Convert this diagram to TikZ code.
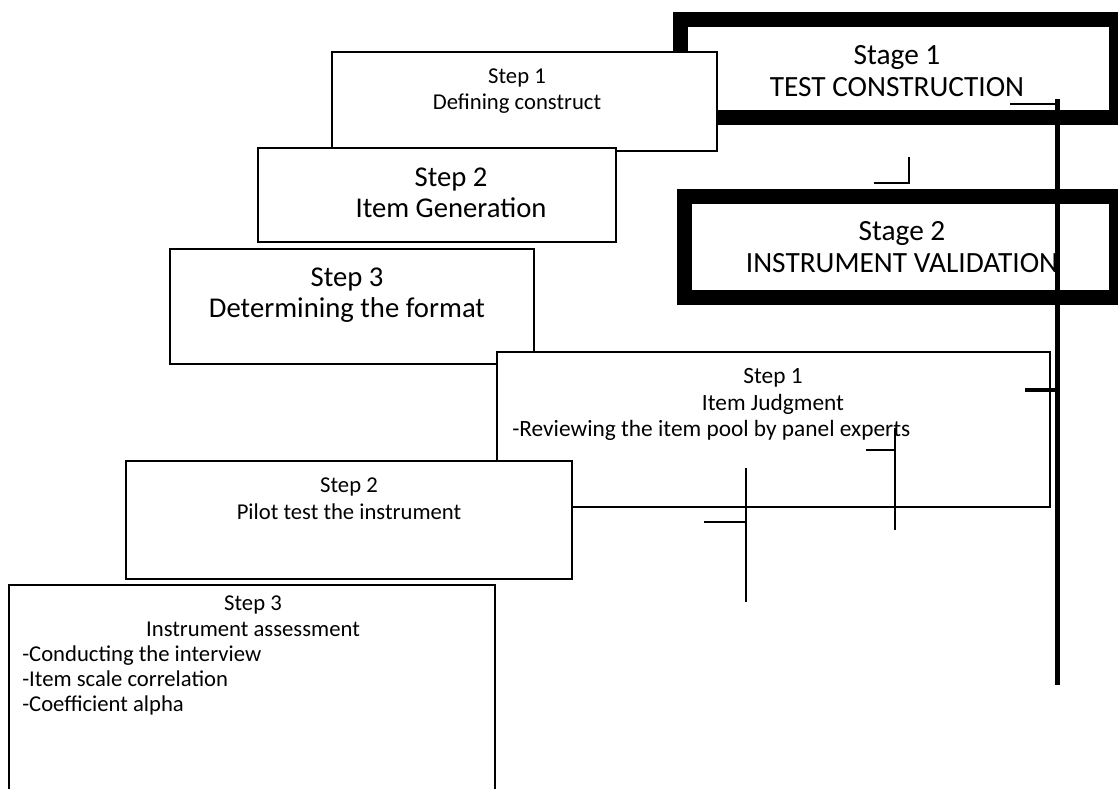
\documentclass[tikz,border=0pt]{standalone}
\usepackage{fontspec}
\setmainfont{Carlito}

\begin{document}
\begin{tikzpicture}[x=0.75pt,y=-0.75pt,
	stageframe/.style={line width=11.25pt},
	stepbox/.style={draw, fill=white, line width=1.4pt},
	tick/.style={line width=1.2pt},
	spine/.style={line width=3.75pt},
	title/.style={anchor=north, inner sep=0pt, align=center},
	items/.style={anchor=north west, inner sep=0pt, align=left}]
	\useasboundingbox (0,0) rectangle (1118,789);
	% stage 1
	\draw [stageframe] (680,19) rectangle (1116,117);
	\node [title, font=\fontsize{22}{24}\selectfont] (stageA) at (897,45) {Stage 1\\TEST CONSTRUCTION};
	% steps of stage 1
	\draw [stepbox] (332,52) rectangle (717,151);
	\node [title, font=\fontsize{17}{19.5}\selectfont] (defin) at (517,69) {Step 1\\Defining construct};
	\draw [stepbox] (258,148) rectangle (616,242);
	\node [title, font=\fontsize{21.5}{23}\selectfont] (itemgen) at (451,168) {Step 2\\Item Generation};
	\draw [stepbox] (170,249) rectangle (534,364);
	\node [title, font=\fontsize{21.5}{23}\selectfont] (format) at (347,268) {Step 3\\Determining the format};
	% stage 2
	\draw [stageframe] (684,196) rectangle (1116,297);
	\node [title, font=\fontsize{22}{24}\selectfont] (stageB) at (902,221) {Stage 2\\INSTRUMENT VALIDATION};
	\draw [tick] (909,157) -- (909,184) (874,183) -- (909,183);
	\draw [spine] (1057,99) -- (1057,685);
	\draw [line width=2.2pt] (1010,104) -- (1057,104);
	% steps of stage 2
	\draw [stepbox] (497,352) rectangle (1050,507);
	\node [title, font=\fontsize{17.5}{20}\selectfont] (judg) at (773,368) {Step 1\\Item Judgment};
	\node [items, anchor=base west, font=\fontsize{17.5}{20}\selectfont] (review) at (512,436) {-Reviewing the item pool by panel experts};
	\draw [line width=3pt] (1025,390) -- (1057,390);
	\draw [stepbox] (126,461) rectangle (572,579);
	\node [title, font=\fontsize{17}{20}\selectfont] (pilot) at (349,478) {Step 2\\Pilot test the instrument};
	\draw [stepbox] (9,585) rectangle (495,800);
	\node [title, font=\fontsize{17}{19}\selectfont] (assess) at (253,596) {Step 3\\Instrument assessment};
	\node [items, font=\fontsize{17}{19}\selectfont] (tasks) at (22,645) {-Conducting the interview\\-Item scale correlation\\-Coefficient alpha};
	\draw [tick] (746,468) -- (746,602) (704,522) -- (746,522);
	\draw [tick] (895,428) -- (895,530) (866,450) -- (895,450);
\end{tikzpicture}
\end{document}
